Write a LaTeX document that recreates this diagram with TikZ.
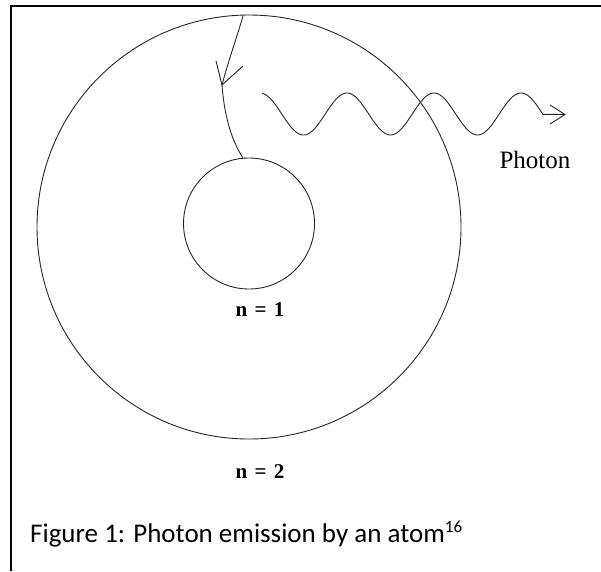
\documentclass[tikz,border=0pt]{standalone}
\usepackage{fontspec}
\setmainfont{Liberation Serif}
\newfontfamily\capfont{Carlito}
\begin{document}
\begin{tikzpicture}[x=1pt,y=-1pt,
  thinline/.style={line width=0.9pt, black!85},
  lbl/.style={inner sep=0pt, font=\bfseries\fontsize{21}{21}\selectfont}]
\useasboundingbox (0,0) rectangle (601,571);
% frame
\draw[line width=2pt] (11,571) -- (11,6) -- (601,6);
% orbits
\coordinate (C) at (249,227);
\coordinate (c) at (249,223.5);
\draw[thinline] (C) circle[radius=212];
\draw[thinline] (c) circle[radius=65.5];
% electron jump
\coordinate (e0) at (243,16);
\coordinate (ek) at (222,85);
\coordinate (e1) at (243,158);
\draw[thinline] (e0) .. controls (236,40) and (228,62) .. (ek)
  .. controls (224,112) and (230,138) .. (e1);
\draw[thinline] (216,61) -- (ek) -- (243,66);
% photon wave
\draw[thinline] plot[domain=262:543, samples=200] (\x, {114 - 21*cos(4.13793*(\x-260))}) -- (565,114.5);
\coordinate (tip) at (565,114.5);
\draw[thinline] (550,105) -- (tip) -- (550,124);
% labels
\node[inner sep=0pt, font=\fontsize{25}{25}\selectfont] (ph) at (535,160) {Photon};
\node[lbl] (n1) at (260,310) {n\hspace{0.35em}=\hspace{0.35em}1};
\node[lbl] (n2) at (260,472) {n\hspace{0.35em}=\hspace{0.35em}2};
\node[anchor=base west, inner sep=0pt, font=\capfont\fontsize{27}{27}\selectfont] (cap) at (30,542) {Figure 1: Photon emission by an atom\textsuperscript{\fontsize{17}{17}\selectfont 16}};
\end{tikzpicture}
\end{document}
